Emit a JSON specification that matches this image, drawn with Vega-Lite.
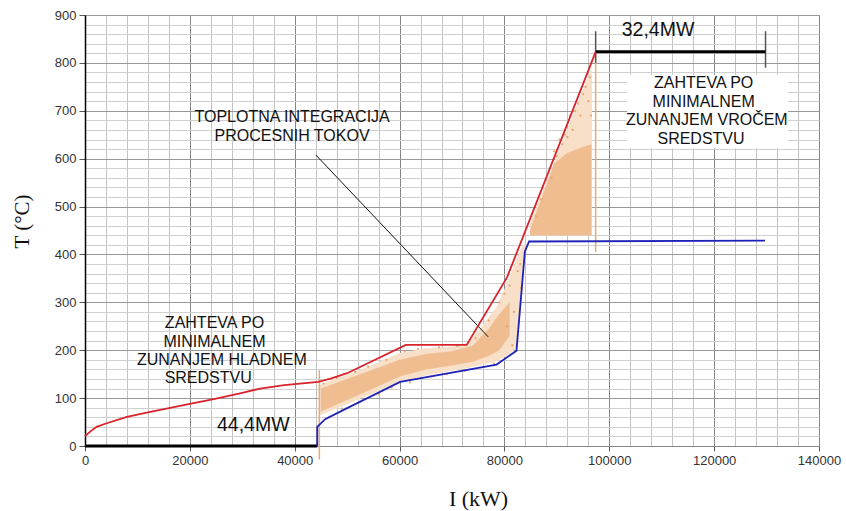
{
  "$schema": "https://vega.github.io/schema/vega-lite/v6.json",
  "width": 734,
  "height": 431,
  "autosize": "none",
  "padding": {"left": 85, "top": 15, "right": 27, "bottom": 65},
  "background": "white",
  "config": {
    "view": {"stroke": "#999999", "strokeWidth": 1},
    "font": "Liberation Sans",
    "axis": {"labelFontSize": 13, "labelFont": "Liberation Sans"}
  },
  "encoding": {
    "x": {
      "field": "x",
      "type": "quantitative",
      "scale": {"domain": [0, 140000], "nice": false, "zero": false},
      "axis": {
        "title": "I  (kW)",
        "titleFont": "Liberation Serif", "titleFontSize": 22, "titleFontWeight": "normal", "titleColor": "#111",
        "titleX": 393, "titleY": 52, "titleBaseline": "middle", "titleAlign": "center",
        "values": [0,4000,8000,12000,16000,20000,24000,28000,32000,36000,40000,44000,48000,52000,56000,60000,64000,68000,72000,76000,80000,84000,88000,92000,96000,100000,104000,108000,112000,116000,120000,124000,128000,132000,136000,140000],
        "format": "d",
        "labelExpr": "datum.value % 20000 === 0 ? datum.label : ''",
        "labelOverlap": false,
        "labelFlush": false,
        "labelFontSize": 13, "labelColor": "#333", "labelPadding": 3, "labelFont": "Liberation Sans",
        "grid": true,
        "gridColor": {"condition": {"test": "datum.value % 20000 === 0", "value": "#858585"}, "value": "#c2c2c2"},
        "gridWidth": 1,
        "ticks": true, "tickSize": 5, "tickColor": "#555",
        "tickOpacity": {"condition": {"test": "datum.value % 20000 === 0", "value": 1}, "value": 0},
        "domainColor": "#888", "domainWidth": 1
      }
    },
    "y": {
      "field": "y",
      "type": "quantitative",
      "scale": {"domain": [0, 900], "nice": false, "zero": false},
      "axis": {
        "title": "T  (°C)",
        "titleFont": "Liberation Serif", "titleFontSize": 21, "titleFontWeight": "normal", "titleColor": "#111",
        "titleX": -63, "titleY": 206, "titleAngle": -90, "titleBaseline": "middle", "titleAlign": "center",
        "values": [0,20,40,60,80,100,120,140,160,180,200,220,240,260,280,300,320,340,360,380,400,420,440,460,480,500,520,540,560,580,600,620,640,660,680,700,720,740,760,780,800,820,840,860,880,900],
        "labelExpr": "datum.value % 100 === 0 ? datum.label : ''",
        "labelOverlap": false,
        "labelFlush": false,
        "labelFontSize": 13, "labelColor": "#333", "labelPadding": 3, "labelFont": "Liberation Sans",
        "grid": true,
        "gridColor": {"condition": {"test": "datum.value % 100 === 0", "value": "#999999"}, "value": "#d0d0d0"},
        "gridWidth": 1,
        "ticks": true, "tickSize": 6, "tickColor": "#555",
        "tickOpacity": {"condition": {"test": "datum.value % 100 === 0", "value": 1}, "value": 0},
        "domainColor": "#000", "domainWidth": 1.5
      }
    }
  },
  "layer": [
    {
      "data": {"values": [{"x": 103400, "x2": 134100, "y": 622, "y2": 775}]},
      "mark": {"type": "rect", "fill": "white"},
      "encoding": {
        "x2": {"field": "x2"},
        "y2": {"field": "y2"}
      }
    },
    {
      "data": {"values": [
        {"x": 44800, "y": 64, "y2": 128},
        {"x": 47000, "y": 74, "y2": 138},
        {"x": 50000, "y": 87, "y2": 149},
        {"x": 55000, "y": 110, "y2": 170},
        {"x": 60000, "y": 134, "y2": 194},
        {"x": 65000, "y": 147, "y2": 204},
        {"x": 70000, "y": 157, "y2": 207},
        {"x": 73000, "y": 163, "y2": 214},
        {"x": 76000, "y": 170, "y2": 254},
        {"x": 78500, "y": 177, "y2": 290},
        {"x": 80500, "y": 188, "y2": 340},
        {"x": 82300, "y": 205, "y2": 390},
        {"x": 83300, "y": 300, "y2": 415},
        {"x": 84000, "y": 410, "y2": 425}
      ]},
      "mark": {"type": "area", "color": "#f7dfc8", "opacity": 1},
      "encoding": {"y2": {"field": "y2"}}
    },
    {
      "data": {"values": [
        {"x": 45000, "y": 72, "y2": 120},
        {"x": 50000, "y": 96, "y2": 140},
        {"x": 55000, "y": 120, "y2": 160},
        {"x": 60000, "y": 145, "y2": 180},
        {"x": 65000, "y": 160, "y2": 192},
        {"x": 70000, "y": 168, "y2": 198},
        {"x": 74000, "y": 176, "y2": 210},
        {"x": 77000, "y": 188, "y2": 245},
        {"x": 79000, "y": 200, "y2": 275},
        {"x": 81000, "y": 230, "y2": 300}
      ]},
      "mark": {"type": "area", "color": "#efbd90", "opacity": 1},
      "encoding": {"y2": {"field": "y2"}}
    },
    {
      "data": {"values": [
        {"x": 84900, "y": 440, "y2": 465},
        {"x": 88000, "y": 440, "y2": 552},
        {"x": 92000, "y": 440, "y2": 662},
        {"x": 95000, "y": 440, "y2": 745},
        {"x": 96700, "y": 440, "y2": 790}
      ]},
      "mark": {"type": "area", "color": "#f7dfc8", "opacity": 1},
      "encoding": {"y2": {"field": "y2"}}
    },
    {
      "data": {"values": [
        {"x": 84900, "y": 440, "y2": 452},
        {"x": 86500, "y": 440, "y2": 500},
        {"x": 88000, "y": 440, "y2": 545},
        {"x": 89500, "y": 440, "y2": 590},
        {"x": 92000, "y": 440, "y2": 612},
        {"x": 95000, "y": 440, "y2": 625},
        {"x": 96600, "y": 440, "y2": 630}
      ]},
      "mark": {"type": "area", "color": "#efbd90", "opacity": 1},
      "encoding": {"y2": {"field": "y2"}}
    },
    {
      "data": {"values": [
        {"x": 45500, "y": 130}, {"x": 46500, "y": 60}, {"x": 48000, "y": 142}, {"x": 49000, "y": 78},
        {"x": 51500, "y": 155}, {"x": 52500, "y": 92}, {"x": 54000, "y": 166}, {"x": 56000, "y": 108},
        {"x": 57500, "y": 180}, {"x": 58500, "y": 122}, {"x": 61000, "y": 198}, {"x": 62000, "y": 133},
        {"x": 63500, "y": 203}, {"x": 66000, "y": 145}, {"x": 67500, "y": 206}, {"x": 69000, "y": 150},
        {"x": 71000, "y": 209}, {"x": 72500, "y": 157}, {"x": 74500, "y": 225}, {"x": 76000, "y": 165},
        {"x": 77000, "y": 262}, {"x": 78000, "y": 172}, {"x": 79000, "y": 300}, {"x": 80000, "y": 318},
        {"x": 81000, "y": 335}, {"x": 81500, "y": 210}, {"x": 82500, "y": 365}, {"x": 83000, "y": 380},
        {"x": 82800, "y": 260}, {"x": 83200, "y": 330}, {"x": 81800, "y": 280}, {"x": 80500, "y": 250},
        {"x": 86000, "y": 480}, {"x": 87000, "y": 515}, {"x": 88500, "y": 575}, {"x": 89000, "y": 560},
        {"x": 90000, "y": 605}, {"x": 90500, "y": 640}, {"x": 91500, "y": 650}, {"x": 92500, "y": 690},
        {"x": 93000, "y": 660}, {"x": 94000, "y": 715}, {"x": 94500, "y": 690}, {"x": 95500, "y": 750},
        {"x": 96000, "y": 720}, {"x": 96300, "y": 770}, {"x": 91000, "y": 630}, {"x": 93500, "y": 700},
        {"x": 95000, "y": 735}, {"x": 96500, "y": 690}, {"x": 89500, "y": 615}, {"x": 92000, "y": 645}
      ]},
      "mark": {"type": "point", "filled": true, "color": "#e3a470", "size": 5, "opacity": 1},
      "encoding": {}
    },
    {
      "data": {"values": [
        {"x": 44700, "y": -28, "y2": 158},
        {"x": 97400, "y": 405, "y2": 823}
      ]},
      "mark": {"type": "rule", "color": "#eaa872", "strokeWidth": 1.5},
      "encoding": {"y2": {"field": "y2"}}
    },
    {
      "data": {"values": [
        {"x": 97400, "y": 800, "y2": 866},
        {"x": 129800, "y": 790, "y2": 866}
      ]},
      "mark": {"type": "rule", "color": "#555", "strokeWidth": 1.5},
      "encoding": {"y2": {"field": "y2"}}
    },
    {
      "data": {"values": [
        {"x": 0, "x2": 44300, "y": 0},
        {"x": 97400, "x2": 129800, "y": 823}
      ]},
      "mark": {"type": "rule", "color": "#000", "strokeWidth": 3},
      "encoding": {"x2": {"field": "x2"}}
    },
    {
      "data": {"values": [
        {"x": 44000, "y": 608, "x2": 76900, "y2": 228}
      ]},
      "mark": {"type": "rule", "color": "#111", "strokeWidth": 1},
      "encoding": {"x2": {"field": "x2"}, "y2": {"field": "y2"}}
    },
    {
      "data": {"values": [
        {"x": 0, "y": 21}, {"x": 1000, "y": 30}, {"x": 2200, "y": 40}, {"x": 4000, "y": 47},
        {"x": 8000, "y": 61}, {"x": 12000, "y": 70}, {"x": 16000, "y": 79}, {"x": 20000, "y": 88},
        {"x": 25000, "y": 99}, {"x": 30000, "y": 111}, {"x": 33400, "y": 120}, {"x": 38000, "y": 127},
        {"x": 44500, "y": 134}, {"x": 47000, "y": 141}, {"x": 50000, "y": 152}, {"x": 61200, "y": 211},
        {"x": 72800, "y": 211}, {"x": 80500, "y": 352}, {"x": 97400, "y": 823}
      ]},
      "mark": {"type": "line", "color": "#d9232b", "strokeWidth": 1.8},
      "encoding": {}
    },
    {
      "data": {"values": [
        {"x": 44300, "y": 0, "o": 1}, {"x": 44300, "y": 40, "o": 2}, {"x": 45800, "y": 56, "o": 3},
        {"x": 50000, "y": 79, "o": 4}, {"x": 60100, "y": 134, "o": 5}, {"x": 78500, "y": 170, "o": 6},
        {"x": 82300, "y": 199, "o": 7}, {"x": 83900, "y": 406, "o": 8}, {"x": 84700, "y": 427, "o": 9},
        {"x": 129700, "y": 429, "o": 10}
      ]},
      "mark": {"type": "line", "color": "#1f22b8", "strokeWidth": 1.8},
      "encoding": {"order": {"field": "o"}}
    },
    {
      "data": {"values": [
        {"x": 39500, "y": 687, "t": "TOPLOTNA INTEGRACIJA"},
        {"x": 39500, "y": 647, "t": "PROCESNIH TOKOV"},
        {"x": 24700, "y": 257, "t": "ZAHTEVA PO"},
        {"x": 24700, "y": 217, "t": "MINIMALNEM"},
        {"x": 26100, "y": 180, "t": "ZUNANJEM HLADNEM"},
        {"x": 23500, "y": 142, "t": "SREDSTVU"},
        {"x": 118000, "y": 757, "t": "ZAHTEVA PO"},
        {"x": 118000, "y": 719, "t": "MINIMALNEM"},
        {"x": 118600, "y": 681, "t": "ZUNANJEM VROČEM"},
        {"x": 117500, "y": 642, "t": "SREDSTVU"}
      ]},
      "mark": {"type": "text", "fontSize": 16, "color": "#111", "align": "center", "baseline": "middle", "font": "Liberation Sans"},
      "encoding": {"text": {"field": "t"}}
    },
    {
      "data": {"values": [
        {"x": 32100, "y": 44, "t": "44,4MW"},
        {"x": 109300, "y": 868, "t": "32,4MW"}
      ]},
      "mark": {"type": "text", "fontSize": 19.5, "color": "#111", "align": "center", "baseline": "middle", "font": "Liberation Sans"},
      "encoding": {"text": {"field": "t"}}
    }
  ]
}
